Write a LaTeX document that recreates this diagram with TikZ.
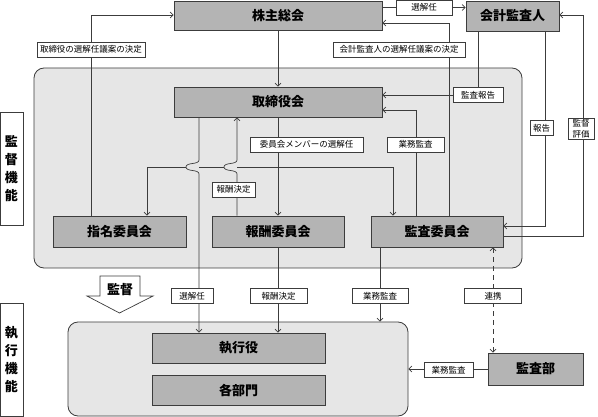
\documentclass[tikz,border=0pt]{standalone}
\usepackage{fontspec}
\setmainfont{Noto Sans CJK JP}
\usetikzlibrary{arrows.meta}
\definecolor{boxfill}{HTML}{B4B4B4}
\definecolor{regfill}{HTML}{E6E6E6}
\definecolor{linec}{HTML}{3C3C3C}
\tikzset{
 box/.style={draw=linec, fill=boxfill, line width=0.8pt, inner sep=0pt, font=\bfseries\fontsize{13}{15}\selectfont},
 lab/.style={draw=linec, fill=white, line width=0.6pt, inner xsep=3pt, inner ysep=1pt, minimum height=15pt, font=\fontsize{8.5}{10}\selectfont},
 conn/.style={draw=linec, line width=0.7pt},
 tipb/.tip={Straight Barb[length=3pt,width=6pt]},
 arr/.style={conn, -tipb},
 region/.style={draw=linec, fill=regfill, rounded corners=10pt, line width=0.8pt, inner sep=0pt},
 side/.style={draw=linec, fill=white, line width=0.8pt, inner sep=0pt, minimum width=23pt, align=center, font=\bfseries\fontsize{13}{18}\selectfont},
}
\begin{document}
\begin{tikzpicture}[x=1pt,y=-1pt]
\useasboundingbox (0,0) rectangle (598,417);
% regions
\node[region, minimum width=488pt, minimum height=200pt] (sup) at (278,168) {};
\node[region, minimum width=340pt, minimum height=94pt] (exe) at (238,369) {};
% boxes
\node[box, minimum width=208pt, minimum height=29pt] (soukai) at (278,15.5) {株主総会};
\node[box, minimum width=93pt, minimum height=30pt] (kansanin) at (512.5,16) {会計監査人};
\node[box, minimum width=208pt, minimum height=30pt] (tori) at (278,102) {取締役会};
\node[box, minimum width=133pt, minimum height=31pt] (shimei) at (119.5,231.5) {指名委員会};
\node[box, minimum width=132pt, minimum height=31pt] (houshu) at (278,231.5) {報酬委員会};
\node[box, minimum width=132pt, minimum height=31pt] (kansa) at (437,231.5) {監査委員会};
\node[box, minimum width=173pt, minimum height=30pt] (shikko) at (238.5,348) {執行役};
\node[box, minimum width=173pt, minimum height=30pt] (bumon) at (238.5,390) {各部門};
\node[box, minimum width=95pt, minimum height=32pt] (kansabu) at (535.5,369) {監査部};
% side labels
\node[side, minimum height=113pt] (side1) at (11.5,168.5) {監\\督\\機\\能};
\node[side, minimum height=113pt] (side2) at (11.5,360) {執\\行\\機\\能};
% big arrow
\draw[draw=linec, fill=white, line width=0.7pt] (100,276) -- (140,276) -- (140,296) -- (153,296) -- (119.5,313) -- (87,296) -- (100,296) -- cycle;
\node[font=\bfseries\fontsize{13}{15}\selectfont] (kantoku) at (120,290) {監督};
% coordinates
\coordinate (c1) at (424,7.5);
\coordinate (c2) at (91,15);
\coordinate (c4) at (478,95);
\coordinate (c5) at (449,23);
\coordinate (c6a) at (583,236);
\coordinate (c6b) at (583,15);
\coordinate (c7) at (545,226);
\coordinate (c8) at (199,160);
\coordinate (c9) at (237,174);
\coordinate (hL) at (147,167);
\coordinate (hR) at (393,167);
\coordinate (c11) at (416,110);
\coordinate (c13) at (380,296);
\coordinate (c14) at (493,296);
% connectors
\draw[arr] (soukai.east |- c1) -- (kansanin.west |- c1);
\draw[arr] (shimei.north -| c2) -- (c2) -- (soukai.west |- c2);
\draw[arr] (soukai) -- (tori);
\draw[arr] (kansanin.south -| c4) -- (c4) -- (tori.east |- c4);
\draw[arr] (kansa.north -| c5) -- (c5) -- (soukai.east |- c5);
\draw[arr] (kansa.east |- c6a) -- (c6a) -- (c6b) -- (kansanin.east |- c6b);
\draw[arr] (kansanin.south -| c7) -- (c7) -- (kansa.east |- c7);
\draw[arr] (tori.south -| c8) -- (c8) .. controls (199,165) and (186,162) .. (186,167) .. controls (186,172) and (199,169) .. (199,174) -- (shikko.north -| c8);
\draw[arr] (houshu.north -| c9) -- (c9) .. controls (237,169) and (224,172) .. (224,167) .. controls (224,162) and (237,165) .. (237,160) -- (tori.south -| c9);
\draw[arr] (tori) -- (houshu);
\draw[arr] (186,167) -- (hL) -- (shimei.north -| hL);
\draw[conn] (199,167) -- (224,167);
\draw[arr] (237,167) -- (hR) -- (kansa.north -| hR);
\draw[arr] (kansa.north -| c11) -- (c11) -- (tori.east |- c11);
\draw[arr] (houshu.south) -- (shikko.north -| houshu.south);
\draw[arr] (kansa.south -| c13) -- (exe.north -| c13);
\draw[conn, tipb-tipb, dash pattern=on 5pt off 4pt] (kansa.south -| c14) -- (kansabu.north -| c14);
\draw[arr] (kansabu.west) -- (exe.east |- kansabu.west);
% labels
\node[lab, minimum width=56pt] (l1) at (c1) {選解任};
\node[lab] (l2) at (91,49.5) {取締役の選解任議案の決定};
\node[lab, minimum width=50pt] (l4) at (c4) {監査報告};
\node[lab, minimum width=132pt] (l5) at (399,49.5) {会計監査人の選解任議案の決定};
\node[lab, align=center, minimum width=26pt, inner xsep=1pt, font=\fontsize{8.5}{11}\selectfont] (l6) at (581,129) {監督\\評価};
\node[lab, minimum width=23pt, inner xsep=1pt] (l7) at (541.5,128) {報告};
\node[lab, minimum width=42pt] (l8) at (192,296) {選解任};
\node[lab, minimum width=43pt] (l9) at (233.5,189.5) {報酬決定};
\node[lab, minimum width=113pt] (l10) at (306.5,144.5) {委員会メンバーの選解任};
\node[lab, minimum width=57pt] (l11) at (415.5,144.5) {業務監査};
\node[lab, minimum width=57pt] (l12) at (278.5,296) {報酬決定};
\node[lab, minimum width=56pt] (l13) at (c13) {業務監査};
\node[lab, minimum width=57pt] (l14) at (c14) {連携};
\node[lab, minimum width=49pt] (l15) at (448.5,370) {業務監査};
\end{tikzpicture}
\end{document}
